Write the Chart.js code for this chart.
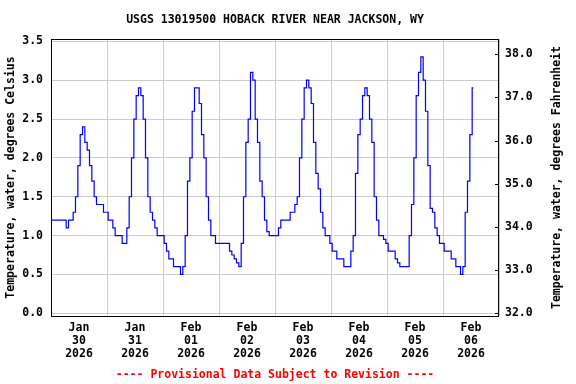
<!DOCTYPE html>
<html>
<head>
<meta charset="utf-8">
<script src="https://cdn.jsdelivr.net/npm/chart.js@4/dist/chart.umd.min.js"></script>
<style>
  html, body { margin: 0; padding: 0; background: #ffffff; }
  #wrap { width: 576px; height: 384px; }
</style>
</head>
<body>
<div id="wrap"><canvas id="chartSuhu" width="576" height="384"></canvas></div>
<script>
// hourly water temperature (deg C), one array per day, starting 00:00
const jan30 = [1.2,1.2,1.2,1.2,1.2,1.2,1.2,1.1,1.2,1.2,1.3,1.5,1.9,2.3,2.4,2.2,2.1,1.9,1.7,1.5,1.4,1.4,1.4,1.3];
const jan31 = [1.3,1.2,1.2,1.1,1.0,1.0,1.0,0.9,0.9,1.1,1.5,2.0,2.5,2.8,2.9,2.8,2.5,2.0,1.5,1.3,1.2,1.1,1.0,1.0];
const feb01 = [1.0,0.9,0.8,0.7,0.7,0.6,0.6,0.6,0.5,0.6,1.0,1.7,2.0,2.6,2.9,2.9,2.7,2.3,2.0,1.5,1.2,1.0,1.0,0.9];
const feb02 = [0.9,0.9,0.9,0.9,0.9,0.8,0.75,0.7,0.65,0.6,0.9,1.5,2.2,2.5,3.1,3.0,2.5,2.2,1.7,1.5,1.2,1.05,1.0,1.0];
const feb03 = [1.0,1.0,1.1,1.2,1.2,1.2,1.2,1.3,1.3,1.4,1.5,2.0,2.5,2.9,3.0,2.9,2.7,2.2,1.8,1.6,1.3,1.1,1.0,1.0];
const feb04 = [0.9,0.8,0.8,0.7,0.7,0.7,0.6,0.6,0.6,0.8,1.0,1.8,2.3,2.5,2.8,2.9,2.8,2.5,2.2,1.5,1.2,1.0,1.0,0.95];
const feb05 = [0.9,0.8,0.8,0.8,0.7,0.65,0.6,0.6,0.6,0.6,1.0,1.4,2.0,2.8,3.1,3.3,3.0,2.6,1.9,1.35,1.3,1.1,1.0,0.9];
const feb06 = [0.9,0.8,0.8,0.8,0.7,0.7,0.6,0.6,0.5,0.6,1.3,1.7,2.3,2.9];

// axis labels
const dayMonth = ["Jan","Jan","Feb","Feb","Feb","Feb","Feb","Feb"];
const dayNum = ["30","31","01","02","03","04","05","06"];
const dayYear = ["2026","2026","2026","2026","2026","2026","2026","2026"];
const celsiusTicks = [0,0.5,1,1.5,2,2.5,3,3.5];
const fahrenheitTicks = [32,33,34,35,36,37,38];

const yMin = -0.035;
const yMax = 3.53;
const toF = c => c * 1.8 + 32;

const fontMono = "'DejaVu Sans Mono', 'Liberation Mono', monospace";
const huruf = { family: fontMono, size: 11.5, weight: "bold" };


const semuaHari = [jan30, jan31, feb01, feb02, feb03, feb04, feb05, feb06];
const titik = [];
semuaHari.forEach((hari, d) => {
    hari.forEach((v, h) => titik.push({ x: d * 24 + h, y: v }));
});


// frame, right-side inward ticks and right axis title
const bingkai = {
    id: "bingkai",
    afterDraw(chart) {
        const ctx = chart.ctx;
        const a = chart.chartArea;
        ctx.save();
        ctx.strokeStyle = "#000000";
        ctx.lineWidth = 1;
        ctx.strokeRect(Math.round(a.left) + 0.5, Math.round(a.top) + 0.5,
            Math.round(a.right - a.left) - 1, Math.round(a.bottom - a.top));

        const y1 = chart.scales.y1;
        ctx.beginPath();
        y1.ticks.forEach(t => {
            const py = Math.round(y1.getPixelForValue(t.value)) + 0.5;
            ctx.moveTo(a.right - 4, py);
            ctx.lineTo(a.right, py);
        });
        ctx.stroke();

        ctx.translate(557, (a.top + a.bottom) / 2);
        ctx.rotate(-Math.PI / 2);
        ctx.font = "bold 11.5px " + fontMono;
        ctx.fillStyle = "#000000";
        ctx.textAlign = "center";
        ctx.textBaseline = "middle";
        ctx.fillText("Temperature, water, degrees Fahrenheit", 0, 0);
        ctx.restore();
    }
};


new Chart(
document.getElementById("chartSuhu"),
{

type: "line",

data: {
    datasets: [{
        data: titik,
        borderColor: "#0000ff",
        borderWidth: 1.2,
        pointRadius: 0,
        stepped: "middle",
        fill: false
    }]
},

options: {
    responsive: false,
    animation: false,
    layout: { padding: 0 },

    plugins: {
        legend: { display: false },
        tooltip: { enabled: false },
        title: {
            display: true,
            fullSize: false,
            text: "USGS 13019500 HOBACK RIVER NEAR JACKSON, WY",
            color: "#000000",
            font: huruf,
            padding: { top: 13, bottom: 12.2 }
        },
        subtitle: {
            display: true,
            position: "bottom",
            fullSize: false,
            text: "---- Provisional Data Subject to Revision ----",
            color: "#ff0000",
            font: huruf,
            padding: { top: 0, bottom: 2 }
        }
    },

    scales: {
        x: {
            type: "linear",
            min: 0,
            max: 192,
            afterBuildTicks: s => {
                const t = [];
                for (let i = 0; i <= 16; i++) t.push({ value: i * 12 });
                s.ticks = t;
            },
            afterFit: s => { s.height = 52.2; },
            border: { display: false },
            grid: {
                drawTicks: false,
                color: c => (c.tick && c.tick.value % 24 === 0) ? "#cccccc" : "rgba(0,0,0,0)",
                lineWidth: 1
            },
            ticks: {
                autoSkip: false,
                maxRotation: 0,
                padding: 6,
                color: "#000000",
                font: { family: fontMono, size: 11.5, weight: "bold", lineHeight: 1.13 },
                callback: v => {
                    if (v % 24 !== 12) return "";
                    const d = (v - 12) / 24;
                    return [dayMonth[d], dayNum[d], dayYear[d]];
                }
            }
        },

        y: {
            position: "left",
            min: yMin,
            max: yMax,
            afterBuildTicks: s => { s.ticks = celsiusTicks.map(v => ({ value: v })); },
            afterFit: s => { s.width = 51; },
            border: { display: false },
            grid: { drawTicks: false, color: "#cccccc", lineWidth: 1 },
            ticks: {
                padding: 8,
                color: "#000000",
                font: huruf,
                callback: v => v.toFixed(1)
            },
            title: {
                display: true,
                text: "Temperature, water, degrees Celsius",
                color: "#000000",
                font: huruf,
                padding: { top: 4, bottom: 0 }
            }
        },

        y1: {
            position: "right",
            min: toF(yMin),
            max: toF(yMax),
            afterBuildTicks: s => { s.ticks = fahrenheitTicks.map(v => ({ value: v })); },
            afterFit: s => { s.width = 77; },
            border: { display: false },
            grid: { drawTicks: false, drawOnChartArea: false },
            ticks: {
                padding: 6,
                color: "#000000",
                font: huruf,
                callback: v => v.toFixed(1)
            }
        }
    }
},

plugins: [bingkai]

});
</script>
</body>
</html>
